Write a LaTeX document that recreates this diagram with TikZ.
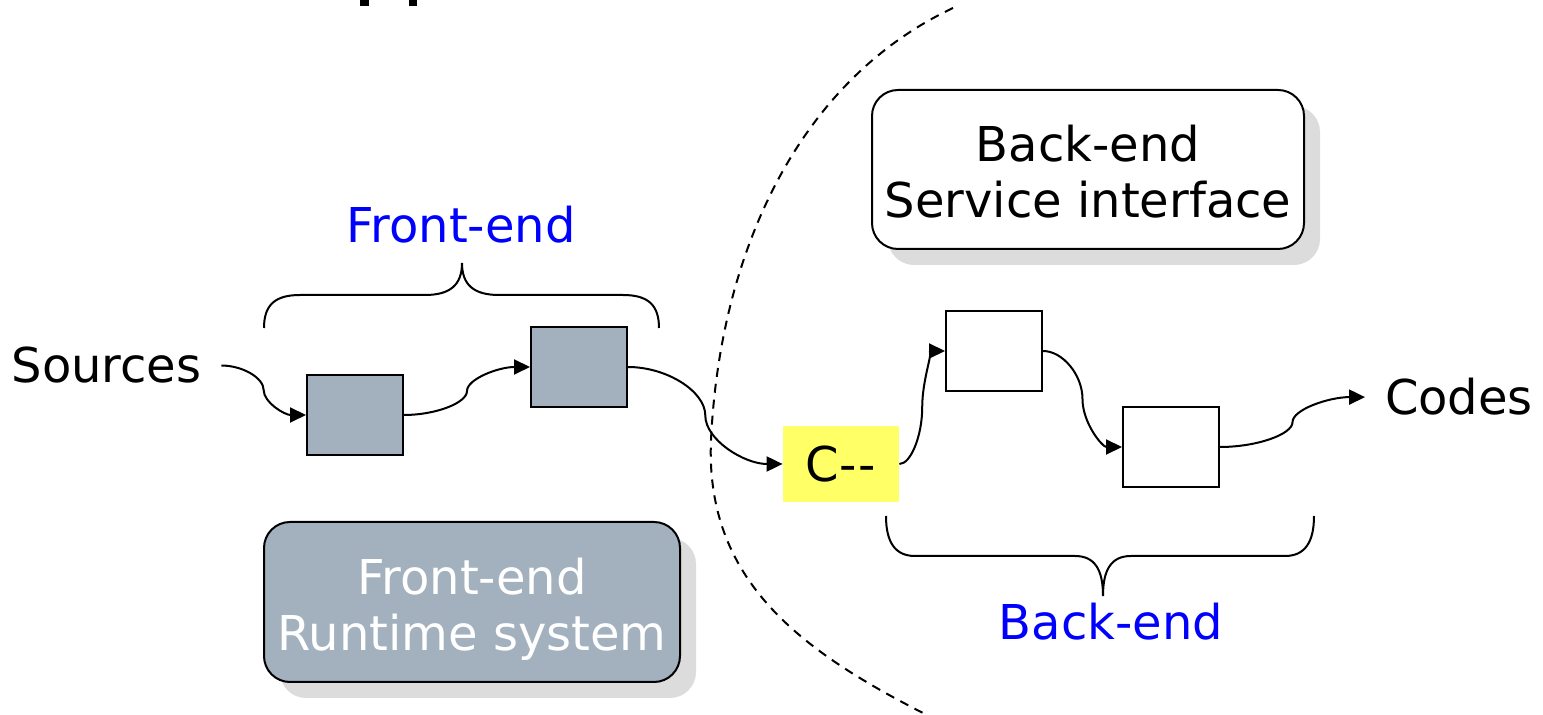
\documentclass[tikz,border=0pt]{standalone}
\usepackage{fontspec}
\setmainfont{DejaVu Sans}
\usetikzlibrary{arrows.meta,shadows,calc}
\definecolor{boxgray}{HTML}{A3B1BF}
\definecolor{cyell}{HTML}{FFFF66}
\definecolor{shad}{HTML}{DCDCDC}
\begin{document}
\begin{tikzpicture}[x=0.5pt,y=-0.5pt,
  every node/.style={font=\fontsize{24}{28}\selectfont},
  ppt/.style={to path={let \p1=(\tikztostart), \p2=(\tikztotarget) in
     .. controls ({0.75*\x1+0.25*\x2},\y1) and ({0.5*\x1+0.5*\x2},{0.75*\y1+0.25*\y2}) .. ({0.5*\x1+0.5*\x2},{0.5*\y1+0.5*\y2})
     .. controls ({0.5*\x1+0.5*\x2},{0.25*\y1+0.75*\y2}) and ({0.25*\x1+0.75*\x2},\y2) .. (\tikztotarget)}},
  conn/.style={line width=1pt, -{Triangle[length=8pt,width=7.5pt]}, ppt},
  sqbox/.style={draw, line width=1pt, minimum width=48pt, minimum height=40pt, inner sep=0pt},
  gbox/.style={sqbox, fill=boxgray},
  wbox/.style={sqbox, fill=white},
  rbox/.style={draw, line width=1pt, rounded corners=13pt, align=center, inner sep=0pt,
     drop shadow={shadow xshift=8pt, shadow yshift=-8pt, fill=shad, opacity=1}},
  lbl/.style={anchor=base, text=blue, inner sep=0pt},
  endtext/.style={anchor=base, inner sep=0pt, outer sep=10pt},
  brace/.style={line width=1pt},
  divider/.style={line width=1pt, dash pattern=on 4.5pt off 3.5pt}
]
\useasboundingbox (0,0) rectangle (1543,715);

% cut-off title remnants
\fill (360,0) rectangle (369,6);
\fill (409,0) rectangle (417,6);

% dashed divider
\draw[divider] (953,8) .. controls (800,80) and (720,250) .. (711,440)
  .. controls (705,580) and (800,650) .. (923,713);

% boxes
\node[rbox, fill=white, minimum width=216pt, minimum height=79.5pt] (svc) at (1088,169.5) {\rule{0pt}{20.5pt}Back-end\\Service interface};
\node[rbox, fill=boxgray, text=white, minimum width=208pt, minimum height=80pt] (rt) at (472,602) {\rule{0pt}{25.2pt}Front-end\\Runtime system};

\node[gbox] (b1) at (355,415) {};
\node[gbox] (b2) at (579,367) {};
\node[wbox] (b3) at (994,351) {};
\node[wbox] (b4) at (1171,447) {};
\node[fill=cyell, minimum width=58pt, minimum height=38pt, inner sep=0pt] (cmm) at (841,464) {C-\kern1pt-};

\node[endtext] (src) at (106.5,383) {Sources};
\node[endtext] (codes) at (1459,415) {Codes};

% braces
\draw[brace] (264,328) .. controls (264,305) and (275,295) .. (300,295) -- (425,295)
  .. controls (450,295) and (462,285) .. (462,263)
  .. controls (462,285) and (474,295) .. (499,295) -- (623,295)
  .. controls (648,295) and (659,305) .. (659,328);
\node[lbl] (fel) at (461,243) {Front-end};

\draw[brace] (886,516) .. controls (886,542) and (895,556) .. (915,556) -- (1075,556)
  .. controls (1095,556) and (1103,570) .. (1103,596)
  .. controls (1103,570) and (1111,556) .. (1131,556) -- (1285,556)
  .. controls (1305,556) and (1314,542) .. (1314,516);
\node[lbl] (bel) at (1111,640) {Back-end};

% connectors
\draw[conn] (src.east) to (b1.west);
\draw[conn] (b1.east) to (b2.west);
\draw[conn] (b2.east) to (cmm.west);
\draw[conn] (cmm.east) to (b3.west);
\draw[conn] (b3.east) to (b4.west);
\draw[conn] (b4.east) to (codes.west);
\end{tikzpicture}
\end{document}
